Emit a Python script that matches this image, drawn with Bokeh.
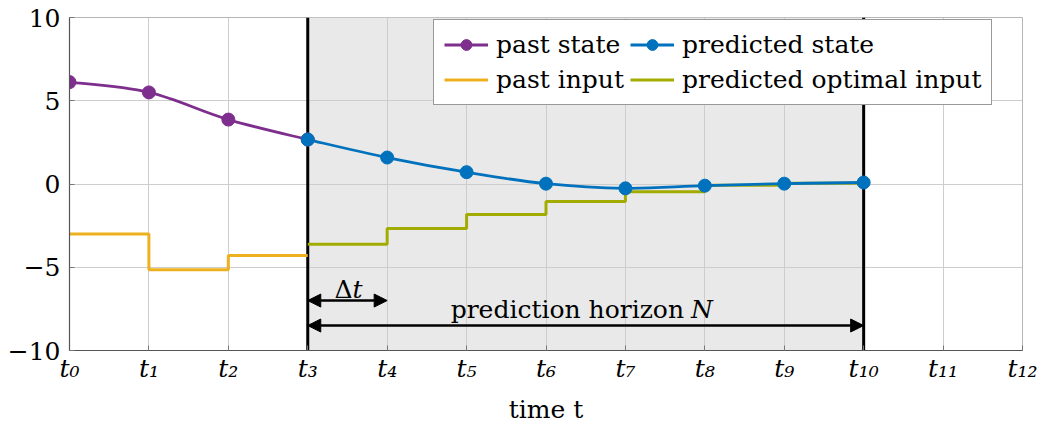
import numpy as np
from bokeh.plotting import figure
from bokeh.models import (Span, BoxAnnotation, Arrow, NormalHead, Label, Legend,
                          LegendItem, FixedTicker, ColumnDataSource)
from bokeh.embed import file_html
from bokeh.resources import INLINE

# ---------------- data ----------------
time_steps = list(range(13))
x_tick_labels = ["t₀", "t₁", "t₂", "t₃", "t₄", "t₅", "t₆", "t₇", "t₈", "t₉", "t₁₀", "t₁₁", "t₁₂"]
y_ticks = [-10, -5, 0, 5, 10]
y_tick_labels = ["−10", "−5", "0", "5", "10"]

past_t = [0, 1, 2, 3]
past_state = [6.12, 5.5, 3.87, 2.67]

pred_t = [3, 4, 5, 6, 7, 8, 9, 10]
pred_state = [2.67, 1.59, 0.71, 0.02, -0.26, -0.10, 0.02, 0.09]

past_input_t = [0, 1, 2, 3]
past_input = [-3.0, -5.15, -4.3]          # value held on each interval

pred_input_t = [3, 4, 5, 6, 7, 8, 9, 10]
pred_input = [-3.62, -2.68, -1.83, -1.05, -0.47, -0.08, 0.05]

horizon_start, horizon_end = 3, 10

PURPLE = "#7E2F8E"
BLUE = "#0072BD"
YELLOW = "#EDB120"
OLIVE = "#A2AC00"
FONT = "DejaVu Serif"
FS = "25px"


def smooth_segments(xs, ys, k=0.18):
    xs = np.asarray(xs, float)
    ys = np.asarray(ys, float)
    n = len(xs)
    out = dict(x0=[], y0=[], x1=[], y1=[], cx0=[], cy0=[], cx1=[], cy1=[])
    for i in range(n - 1):
        pm = i - 1 if i > 0 else i
        pp = i + 2 if i + 2 < n else i + 1
        out["x0"].append(xs[i]); out["y0"].append(ys[i])
        out["x1"].append(xs[i + 1]); out["y1"].append(ys[i + 1])
        out["cx0"].append(xs[i] + k * (xs[i + 1] - xs[pm]))
        out["cy0"].append(ys[i] + k * (ys[i + 1] - ys[pm]))
        out["cx1"].append(xs[i + 1] - k * (xs[pp] - xs[i]))
        out["cy1"].append(ys[i + 1] - k * (ys[pp] - ys[i]))
    return ColumnDataSource(out)


p = figure(width=1041, height=426, x_range=(0, 12), y_range=(-10, 10),
           output_backend="svg", toolbar_location=None,
           min_border_left=69, min_border_right=19, min_border_top=17,
           min_border_bottom=76)
p.background_fill_color = "white"
p.border_fill_color = "white"
p.outline_line_color = "#b5b5b5"
p.outline_line_width = 1

# grids
p.xgrid.ticker = FixedTicker(ticks=time_steps)
p.ygrid.ticker = FixedTicker(ticks=y_ticks)
p.grid.grid_line_color = "#cdcdcd"
p.grid.grid_line_width = 1

# axes
p.xaxis.ticker = FixedTicker(ticks=time_steps)
p.xaxis.major_label_overrides = {t: lab for t, lab in zip(time_steps, x_tick_labels)}
p.yaxis.ticker = FixedTicker(ticks=y_ticks)
p.yaxis.major_label_overrides = {t: lab for t, lab in zip(y_ticks, y_tick_labels)}
for ax in (p.xaxis, p.yaxis):
    ax.axis_line_color = "#555555"
    ax.axis_line_width = 1.2
    ax.major_tick_line_color = "#777777"
    ax.major_tick_in = 5
    ax.major_tick_out = 0
    ax.minor_tick_line_color = None
    ax.major_label_text_font = FONT
    ax.major_label_text_font_size = FS
    ax.major_label_text_color = "black"
p.xaxis.major_label_text_font_style = "italic"
p.xaxis.major_label_standoff = 3
p.yaxis.major_label_standoff = 9
p.xaxis.axis_label = "time t"
p.xaxis.axis_label_text_font = FONT
p.xaxis.axis_label_text_font_size = FS
p.xaxis.axis_label_text_font_style = "normal"
p.xaxis.axis_label_text_color = "black"
p.xaxis.axis_label_standoff = 9

# prediction-horizon shading and borders
p.add_layout(BoxAnnotation(left=horizon_start, right=horizon_end, fill_color="#e9e9e9",
                           fill_alpha=1, line_alpha=0, level="image"))
for loc in (horizon_start, horizon_end):
    p.add_layout(Span(location=loc, dimension="height", line_color="black",
                      line_width=3, level="underlay"))

# inputs (step)
r_pi = p.step(past_input_t, past_input + [past_input[-1]], mode="after",
              line_color=YELLOW, line_width=3)
r_qi = p.step(pred_input_t, pred_input + [pred_input[-1]], mode="after",
              line_color=OLIVE, line_width=3)

# states (smooth)
p.bezier(source=smooth_segments(past_t, past_state), x0="x0", y0="y0", x1="x1", y1="y1",
         cx0="cx0", cy0="cy0", cx1="cx1", cy1="cy1", line_color=PURPLE, line_width=2.8)
p.bezier(source=smooth_segments(pred_t, pred_state), x0="x0", y0="y0", x1="x1", y1="y1",
         cx0="cx0", cy0="cy0", cx1="cx1", cy1="cy1", line_color=BLUE, line_width=2.8)
r_ps = p.scatter(past_t, past_state, size=13, fill_color=PURPLE, line_color=PURPLE)
r_qs = p.scatter(pred_t, pred_state, size=13, fill_color=BLUE, line_color=BLUE)

# single-point lines: invisible in plot, give the legend its line glyph
l_ps = p.line(past_t[:1], past_state[:1], line_color=PURPLE, line_width=2.8)
l_qs = p.line(pred_t[:1], pred_state[:1], line_color=BLUE, line_width=2.8)

legend = Legend(items=[
    LegendItem(label="past state", renderers=[l_ps, r_ps]),
    LegendItem(label="predicted state", renderers=[l_qs, r_qs]),
    LegendItem(label="past input", renderers=[r_pi]),
    LegendItem(label="predicted optimal input", renderers=[r_qi]),
], location=(364, 245), orientation="horizontal", ncols=2,
    label_text_font=FONT, label_text_font_size=FS, label_text_color="black",
    glyph_width=44, glyph_height=27, label_height=27, label_standoff=8,
    spacing=6, padding=10, margin=0,
    border_line_color="#333333", border_line_width=1.5,
    background_fill_color="white", background_fill_alpha=1)
p.add_layout(legend)

# arrows
p.add_layout(Arrow(start=NormalHead(size=13, fill_color="black", line_color="black"),
                   end=NormalHead(size=13, fill_color="black", line_color="black"),
                   x_start=horizon_start, y_start=-7.0, x_end=horizon_start + 1, y_end=-7.0,
                   line_width=2.5, line_color="black"))
p.add_layout(Arrow(start=NormalHead(size=13, fill_color="black", line_color="black"),
                   end=NormalHead(size=13, fill_color="black", line_color="black"),
                   x_start=horizon_start, y_start=-8.5, x_end=horizon_end, y_end=-8.5,
                   line_width=2.5, line_color="black"))

# annotation texts
def lab(x, y, text, align, xoff=0, italic=False):
    p.add_layout(Label(x=x, y=y, text=text, text_align=align, x_offset=xoff,
                       text_baseline="alphabetic", text_font=FONT, text_font_size=FS,
                       text_color="black",
                       text_font_style="italic" if italic else "normal"))

lab(3.5, -6.33, "Δ", "right", 5)
lab(3.5, -6.33, "t", "left", 5, italic=True)
lab(7.75, -7.53, "prediction horizon", "right", -1)
lab(7.75, -7.53, "N", "left", 6, italic=True)

open("out.html", "w").write(file_html(p, INLINE))
